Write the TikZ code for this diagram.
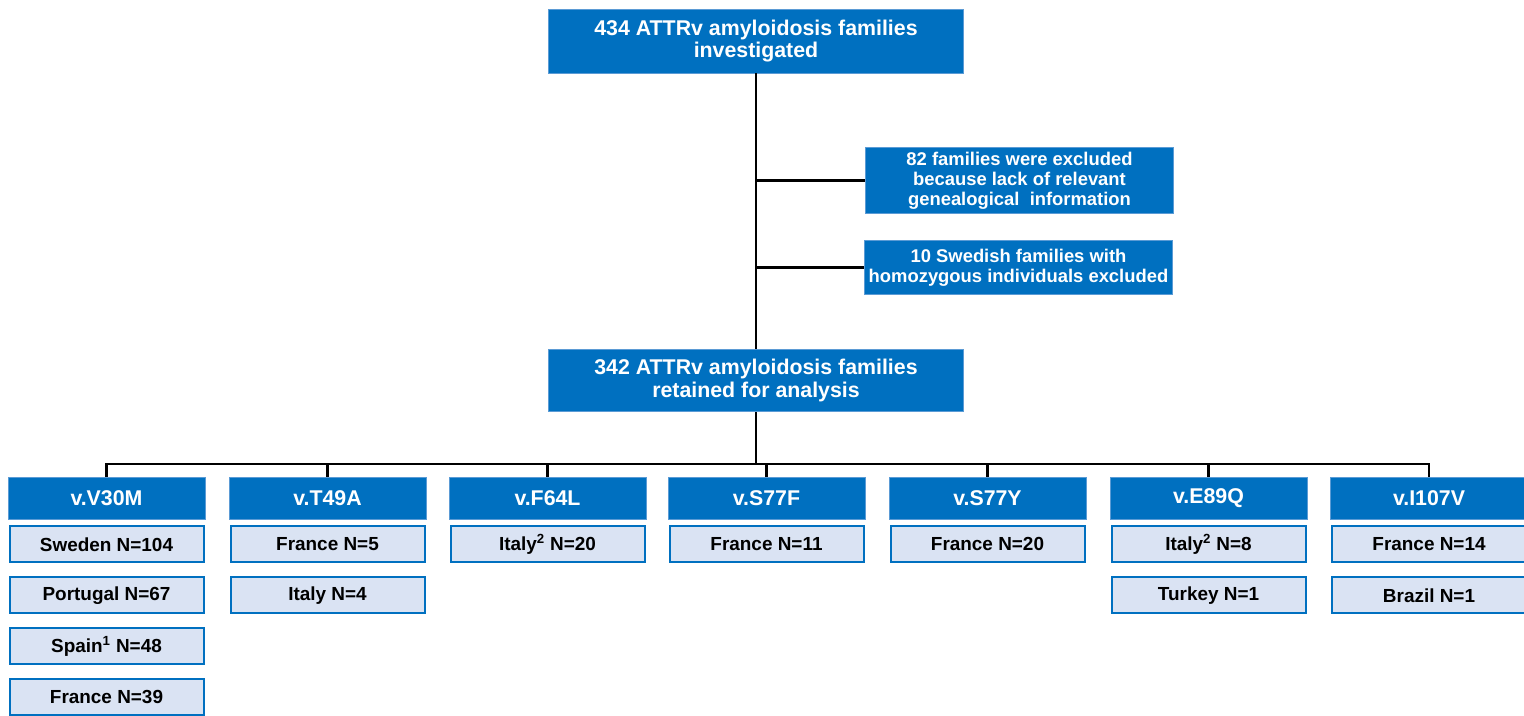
\documentclass[tikz,border=0pt]{standalone}
\usepackage{fontspec}
\setmainfont{Liberation Sans}
\usepackage{xcolor}
\usepackage{tikz}
\usetikzlibrary{positioning,calc}
\definecolor{ocean}{RGB}{0,112,192}
\definecolor{skyline}{RGB}{91,155,213}
\definecolor{mist}{RGB}{218,227,243}
\tikzset{
  big/.style={draw=skyline, line width=0.6pt, fill=ocean, text=white, align=center, inner sep=2pt, font=\bfseries\fontsize{16}{17}\selectfont},
  exc/.style={draw=skyline, line width=0.6pt, fill=ocean, text=white, align=center, inner sep=2pt, minimum width=231.5pt, font=\bfseries\fontsize{13.8}{15}\selectfont},
  var/.style={draw=skyline, line width=0.6pt, fill=ocean, text=white, align=center, minimum width=147.75pt, minimum height=31.5pt, font=\bfseries\fontsize{16}{18}\selectfont},
  cty/.style={draw=ocean, line width=1.5pt, fill=mist, align=center, minimum width=145.5pt, minimum height=27pt, font=\bfseries\fontsize{14.2}{16}\selectfont},
  lnk/.style={line width=2.2pt}
}
\begin{document}
\begin{tikzpicture}[x=0.75pt, y=-0.75pt, node distance=9.75pt]
\useasboundingbox (0,0) rectangle (1524,715);
\node[big, minimum width=311pt, minimum height=48pt] (top) at (756,41) {434 ATTRv amyloidosis families\\investigated};
\node[exc, minimum height=50pt] (ex1) at (1019.5,180.5) {82 families were excluded\\because lack of relevant\\genealogical\ \ information};
\node[exc, minimum height=41pt] (ex2) at (1018.5,267.5) {10 Swedish families with\\homozygous individuals excluded};
\node[big, minimum width=311pt, minimum height=47pt] (kept) at (756,380.5) {342 ATTRv amyloidosis families\\retained for analysis};
\draw[lnk] (top.south) -- (kept.north);
\draw[lnk] (ex1.west) -- (ex1.west -| top.south);
\draw[lnk] (ex2.west) -- (ex2.west -| top.south);
% variants
\node[var] (v1) at (106.5,498) {v.V30M};
\node[var] (v2) at (327.5,498) {v.T49A};
\node[var] (v3) at (547.5,498) {v.F64L};
\node[var] (v4) at (766.5,498) {v.S77F};
\node[var] (v5) at (987.5,498) {v.S77Y};
\node[var] (v6) at (1208.5,498) {v.E89Q};
\node[var] (v7) at (1429,498) {v.I107V};
\coordinate (bus) at (756,464);
\draw[lnk] (kept.south) -- (bus);
\draw[lnk] (v1.north) -- (v1.north |- bus) -- (v7.north |- bus) -- (v7.north);
\foreach \v in {v2,v3,v4,v5,v6} \draw[lnk] (\v.north) -- (\v.north |- bus);
% countries
\node[cty, below=4.5pt of v1] (c11) {Sweden N=104};
\node[cty, below=of c11] (c12) {Portugal N=67};
\node[cty, below=of c12] (c13) {Spain\textsuperscript{1} N=48};
\node[cty, below=of c13] (c14) {France N=39};
\node[cty, below=4.5pt of v2] (c21) {France N=5};
\node[cty, below=of c21] (c22) {Italy N=4};
\node[cty, below=4.5pt of v3] (c31) {Italy\textsuperscript{2} N=20};
\node[cty, below=4.5pt of v4] (c41) {France N=11};
\node[cty, below=4.5pt of v5] (c51) {France N=20};
\node[cty, below=4.5pt of v6] (c61) {Italy\textsuperscript{2} N=8};
\node[cty, below=of c61] (c62) {Turkey N=1};
\node[cty, below=4.5pt of v7] (c71) {France N=14};
\node[cty, below=of c71] (c72) {Brazil N=1};
\end{tikzpicture}
\end{document}
